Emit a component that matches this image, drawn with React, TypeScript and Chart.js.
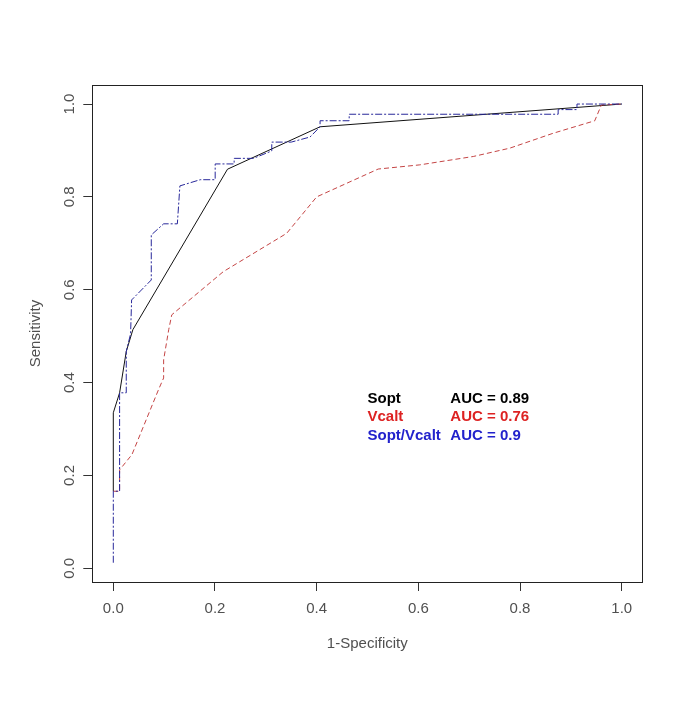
import React, { useEffect, useRef } from "react";
import { Chart, registerables } from "chart.js";

Chart.register(...registerables);

// ---- data ----
const soptX = [0, 0, 0.0124, 0.0255, 0.0385, 0.2246, 0.4067, 1.0];
const soptY = [0.166, 0.335, 0.378, 0.467, 0.514, 0.8596, 0.951, 1.0];

const vcaltX = [0, 0.0124, 0.0124, 0.0367, 0.089, 0.099, 0.099, 0.109, 0.115, 0.2164, 0.341, 0.4, 0.521, 0.603, 0.708, 0.78, 0.865, 0.947, 0.96, 1.0];
const vcaltY = [0.166, 0.166, 0.212, 0.245, 0.385, 0.41, 0.449, 0.514, 0.546, 0.639, 0.7215, 0.8, 0.86, 0.869, 0.887, 0.905, 0.937, 0.964, 0.998, 1.0];

const comboX = [0, 0, 0.0124, 0.0124, 0.0255, 0.0255, 0.034, 0.036, 0.0747, 0.0747, 0.099, 0.126, 0.131, 0.171, 0.2004, 0.2004, 0.2377, 0.2377, 0.2757, 0.3117, 0.3117, 0.35, 0.387, 0.4067, 0.4067, 0.464, 0.464, 0.875, 0.875, 0.912, 0.912, 1.0];
const comboY = [0.012, 0.166, 0.166, 0.378, 0.378, 0.467, 0.505, 0.578, 0.621, 0.718, 0.742, 0.742, 0.8237, 0.837, 0.837, 0.871, 0.871, 0.883, 0.883, 0.899, 0.918, 0.918, 0.929, 0.951, 0.964, 0.964, 0.978, 0.978, 0.988, 0.988, 1.0, 1.0];

const tickValues = [0, 0.2, 0.4, 0.6, 0.8, 1.0];
const tickLabels = ["0.0", "0.2", "0.4", "0.6", "0.8", "1.0"];

const legendNames = ["Sopt", "Vcalt", "Sopt/Vcalt"];
const legendAuc = ["AUC = 0.89", "AUC = 0.76", "AUC = 0.9"];

// ---- styles ----
const FONT = "'Liberation Sans', Arial, sans-serif";
const TEXT_GREY = "#505050";
const legendColors = ["#000000", "#dd2222", "#2222cc"];
const LEGEND_X = 0.5;
const LEGEND_AUC_X = 0.663;
const LEGEND_Y = 0.365;
const LEGEND_STEP = 18.5;

function pts(xs: number[], ys: number[]) {
  return xs.map((x, i) => ({ x, y: ys[i] }));
}

const boxPlugin = {
  id: "rbox",
  beforeDatasetsDraw(chart: any) {
    const { ctx, chartArea } = chart;
    ctx.save();
    ctx.strokeStyle = "#222";
    ctx.lineWidth = 1;
    ctx.strokeRect(
      Math.round(chartArea.left) + 0.5,
      Math.round(chartArea.top) + 0.5,
      Math.round(chartArea.right - chartArea.left),
      Math.round(chartArea.bottom - chartArea.top)
    );
    ctx.restore();
  },
};

const legendPlugin = {
  id: "auclegend",
  afterDraw(chart: any) {
    const { ctx, scales } = chart;
    const x1 = scales.x.getPixelForValue(LEGEND_X);
    const x2 = scales.x.getPixelForValue(LEGEND_AUC_X);
    const y0 = scales.y.getPixelForValue(LEGEND_Y);
    ctx.save();
    ctx.font = `bold 15px ${FONT}`;
    ctx.textBaseline = "middle";
    ctx.textAlign = "left";
    legendNames.forEach((name, i) => {
      ctx.fillStyle = legendColors[i];
      ctx.fillText(name, x1, y0 + i * LEGEND_STEP);
      ctx.fillText(legendAuc[i], x2, y0 + i * LEGEND_STEP);
    });
    ctx.restore();
  },
};

export default function App() {
  const ref = useRef<HTMLCanvasElement | null>(null);
  useEffect(() => {
    if (!ref.current) return;
    const axisCommon = (title: string, titlePad: any) => ({
      type: "linear" as const,
      afterBuildTicks: (scale: any) => {
        scale.ticks = tickValues.map((v) => ({ value: v }));
      },
      grid: {
        display: true,
        drawOnChartArea: false,
        drawTicks: true,
        tickLength: 9,
        color: "#333",
        lineWidth: 1,
      },
      border: { display: true, color: "#222", width: 1 },
      title: {
        display: true,
        text: title,
        color: TEXT_GREY,
        font: { family: FONT, size: 15 },
        padding: titlePad,
      },
    });
    const chart = new Chart(ref.current, {
      type: "line",
      data: {
        datasets: [
          {
            label: "Sopt",
            data: pts(soptX, soptY),
            borderColor: "#111",
            borderWidth: 1,
            pointRadius: 0,
            fill: false,
            tension: 0,
            order: 3,
          },
          {
            label: "Vcalt",
            data: pts(vcaltX, vcaltY),
            borderColor: "#c44444",
            borderWidth: 1,
            borderDash: [5, 3],
            pointRadius: 0,
            fill: false,
            tension: 0,
            order: 2,
          },
          {
            label: "Sopt/Vcalt",
            data: pts(comboX, comboY),
            borderColor: "#28289a",
            borderWidth: 1,
            borderDash: [7, 2, 2, 2],
            pointRadius: 0,
            fill: false,
            tension: 0,
            order: 1,
          },
        ],
      },
      options: {
        responsive: false,
        maintainAspectRatio: false,
        animation: false,
        parsing: false as any,
        layout: { padding: { left: 0, top: 85, right: 42.7, bottom: 0 } },
        plugins: {
          legend: { display: false },
          tooltip: { enabled: false },
        },
        scales: {
          x: {
            ...axisCommon("1-Specificity", { top: 0, bottom: 59 }),
            min: -0.0413,
            max: 1.0405,
            afterFit: (scale: any) => {
              scale.height = 130;
            },
            ticks: {
              color: TEXT_GREY,
              font: { family: FONT, size: 15 },
              padding: 9,
              maxRotation: 0,
              minRotation: 0,
              autoSkip: false,
              callback: (v: any) => {
                const i = tickValues.findIndex((t) => Math.abs(t - Number(v)) < 1e-9);
                return i >= 0 ? tickLabels[i] : "";
              },
            },
          },
          y: {
            ...axisCommon("Sensitivity", { top: 27, bottom: 0 }),
            min: -0.0295,
            max: 1.041,
            afterFit: (scale: any) => {
              scale.width = 92.3;
            },
            ticks: {
              color: TEXT_GREY,
              font: { family: FONT, size: 15 },
              padding: 3,
              minRotation: 90,
              maxRotation: 90,
              crossAlign: "center",
              autoSkip: false,
              callback: (v: any) => {
                const i = tickValues.findIndex((t) => Math.abs(t - Number(v)) < 1e-9);
                return i >= 0 ? tickLabels[i] : "";
              },
            },
          },
        },
      } as any,
      plugins: [boxPlugin, legendPlugin],
    });
    return () => chart.destroy();
  }, []);
  return (
    <div style={{ position: "absolute", left: 0, top: 0, width: 685, height: 712, background: "#fff" }}>
      <canvas ref={ref} width={685} height={712} style={{ width: 685, height: 712, display: "block" }} />
    </div>
  );
}
